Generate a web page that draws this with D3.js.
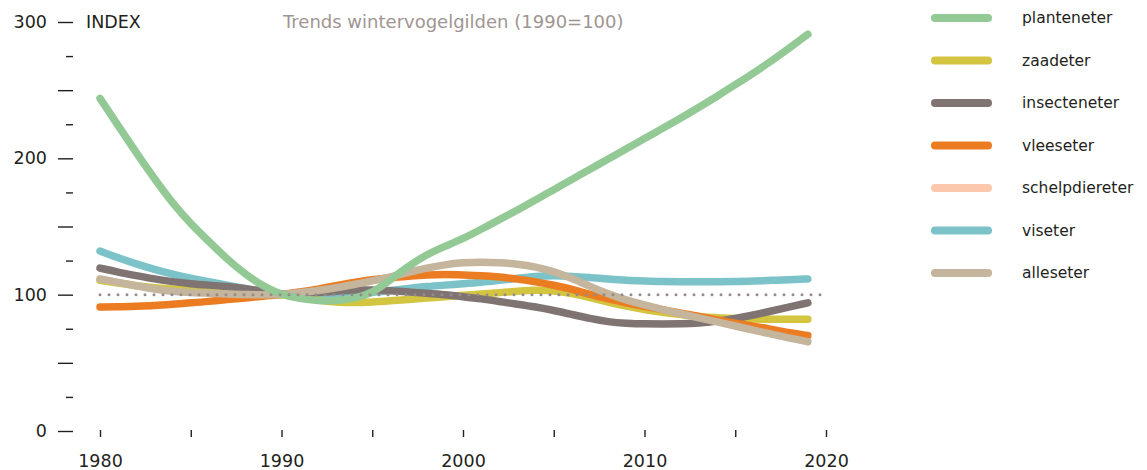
<!DOCTYPE html>
<html>
<head>
<meta charset="utf-8">
<script src="https://cdn.jsdelivr.net/npm/d3@7"></script>
<style>
body { margin: 0; background: #fff; }
text { font-family: "DejaVu Sans", sans-serif; }
</style>
</head>
<body>
<script>
var years = d3.range(1980, 2020);

var planteneter = [244, 224, 204, 185, 167, 152, 139, 126, 115, 106,
                   100, 97, 95.5, 95.5, 97, 101, 111, 121, 129.5, 135.5,
                   141, 148, 155, 162, 169.5, 177, 184.5, 192, 199.5, 207,
                   214.5, 222, 229.5, 237.5, 245.5, 254, 262.5, 271.5, 281, 291];
var zaadeter = [110.5, 108.5, 106.5, 105, 104, 103.5, 103, 102.5, 102, 101,
                100, 98, 96, 94.5, 94, 94.5, 95.5, 96.5, 97.5, 98.5,
                99.5, 100.5, 101.5, 102.5, 103.5, 103, 101, 98, 94.5, 91.5,
                89, 87, 85.5, 84, 83, 82.5, 82, 82, 82, 82];
var insecteneter = [119.5, 116.5, 114, 111.5, 109.5, 108, 107, 106, 104.5, 102.5,
                    100, 100.5, 101.5, 102.5, 103.5, 103.5, 103, 102, 101, 100,
                    98.5, 97, 95, 93, 91, 88.5, 85.5, 82.5, 80, 79,
                    78.5, 78.5, 78.5, 79, 80.5, 82.5, 85, 88, 91, 94];
var vleeseter = [91, 91, 91.5, 92, 93, 94, 95, 96.5, 97.5, 99,
                 100, 102, 104, 106.5, 109, 111, 112.5, 113.5, 114.5, 115,
                 114.5, 114, 113, 111.5, 109.5, 107, 104, 100, 97, 94,
                 91.5, 89, 86.5, 84, 81.5, 79, 77, 74.5, 72, 70];
var schelpdiereter = []; // niet zichtbaar in de grafiek
var viseter = [132, 127, 122.5, 118.5, 115, 112, 109.5, 107, 104.5, 102,
               100, 99.5, 99.5, 100, 100.5, 101.5, 103, 104.5, 106, 107,
               108, 109, 110.5, 112, 113.5, 114, 113.5, 112.5, 111.5, 110.5,
               110, 109.5, 109.5, 109.5, 109.5, 109.5, 110, 110.5, 111, 111.5];
var alleseter = [111.5, 109, 106.5, 104, 102.5, 101.5, 101, 100.5, 100, 100,
                 100, 101.5, 103, 105, 107.5, 110, 113, 116.5, 119.5, 122,
                 123.5, 124, 123.5, 122.5, 120.5, 117, 112, 106, 100.5, 96,
                 92.5, 89, 86, 83, 80, 77, 74, 71, 68, 65.5];

var legendNames = ["planteneter", "zaadeter", "insecteneter", "vleeseter",
                   "schelpdiereter", "viseter", "alleseter"];
var colors = ["#93c995", "#d4c540", "#7f7472", "#ec7c22",
              "#fcc8ad", "#7bc3c8", "#c4b59c"];

var series = [
    {name: "viseter", values: viseter},
    {name: "zaadeter", values: zaadeter},
    {name: "insecteneter", values: insecteneter},
    {name: "vleeseter", values: vleeseter},
    {name: "schelpdiereter", values: schelpdiereter},
    {name: "alleseter", values: alleseter},
    {name: "planteneter", values: planteneter}
];

var yMajor = [0, 50, 100, 150, 200, 250, 300];
var yMinor = [25, 75, 125, 175, 225, 275];
var xTicks = d3.range(1980, 2021, 5);

var w = 1147, h = 470;
var ink = "#231f20";

var svg = d3.select("body")
            .append("svg")
            .attr("width", w)
            .attr("height", h);

var xScale = d3.scaleLinear()
                .domain([1980, 2020])
                .range([100, 826]);

var yScale = d3.scaleLinear()
                .domain([0, 300])
                .range([431, 22]);

var color = d3.scaleOrdinal()
                .domain(legendNames)
                .range(colors);

// y axis
var yAxis = d3.axisLeft(yScale)
                .tickValues(yMajor)
                .tickSize(15)
                .tickPadding(11)
                .tickFormat(d => d % 100 === 0 ? d : "");

var yMinorAxis = d3.axisLeft(yScale)
                .tickValues(yMinor)
                .tickSize(7)
                .tickFormat("");

svg.append("g")
    .attr("transform", "translate(73,0)")
    .call(yAxis);
svg.append("g")
    .attr("transform", "translate(73,0)")
    .call(yMinorAxis);

// x axis
var xAxis = d3.axisBottom(xScale)
                .tickValues(xTicks)
                .tickSize(7)
                .tickFormat(d => d % 10 === 0 ? d : "");

var gx = svg.append("g")
    .attr("transform", "translate(0,430)")
    .call(xAxis);
gx.selectAll("text").attr("y", 25);

svg.selectAll(".domain").remove();
svg.selectAll(".tick line")
    .attr("stroke", ink)
    .attr("stroke-width", 1.4);
svg.selectAll(".tick text")
    .attr("fill", ink)
    .style("font-size", "17.5px");

svg.append("text")
    .attr("x", 86)
    .attr("y", 28)
    .attr("fill", ink)
    .style("font-size", "17.5px")
    .text("INDEX");

svg.append("text")
    .attr("x", 283)
    .attr("y", 28)
    .attr("fill", "#a09592")
    .style("font-size", "18px")
    .text("Trends wintervogelgilden (1990=100)");

// lines
var line = d3.line()
    .x((d, i) => xScale(years[i]))
    .y(d => yScale(d))
    .curve(d3.curveBasis);

svg.append("g")
    .selectAll("path")
    .data(series.filter(s => s.values.length > 0))
    .enter()
    .append("path")
    .attr("d", d => line(d.values))
    .attr("fill", "none")
    .attr("stroke", d => color(d.name))
    .attr("stroke-width", 7.5)
    .attr("stroke-linecap", "round")
    .attr("stroke-linejoin", "round");

// reference line at 100
svg.append("line")
    .attr("x1", xScale(1980))
    .attr("x2", 828)
    .attr("y1", yScale(100))
    .attr("y2", yScale(100))
    .attr("stroke", "#958b8b")
    .attr("stroke-width", 3)
    .attr("stroke-linecap", "round")
    .attr("stroke-dasharray", "0 9");

// legend
var legend = svg.append("g")
    .selectAll("g")
    .data(legendNames)
    .enter()
    .append("g")
    .attr("transform", (d, i) => "translate(0," + (18 + i * 42.5) + ")");

legend.append("line")
    .attr("x1", 935)
    .attr("x2", 988)
    .attr("stroke", d => color(d))
    .attr("stroke-width", 8)
    .attr("stroke-linecap", "round");

legend.append("text")
    .attr("x", 1022)
    .attr("dy", "0.35em")
    .attr("fill", ink)
    .style("font-size", "15.5px")
    .text(d => d);
</script>
</body>
</html>
